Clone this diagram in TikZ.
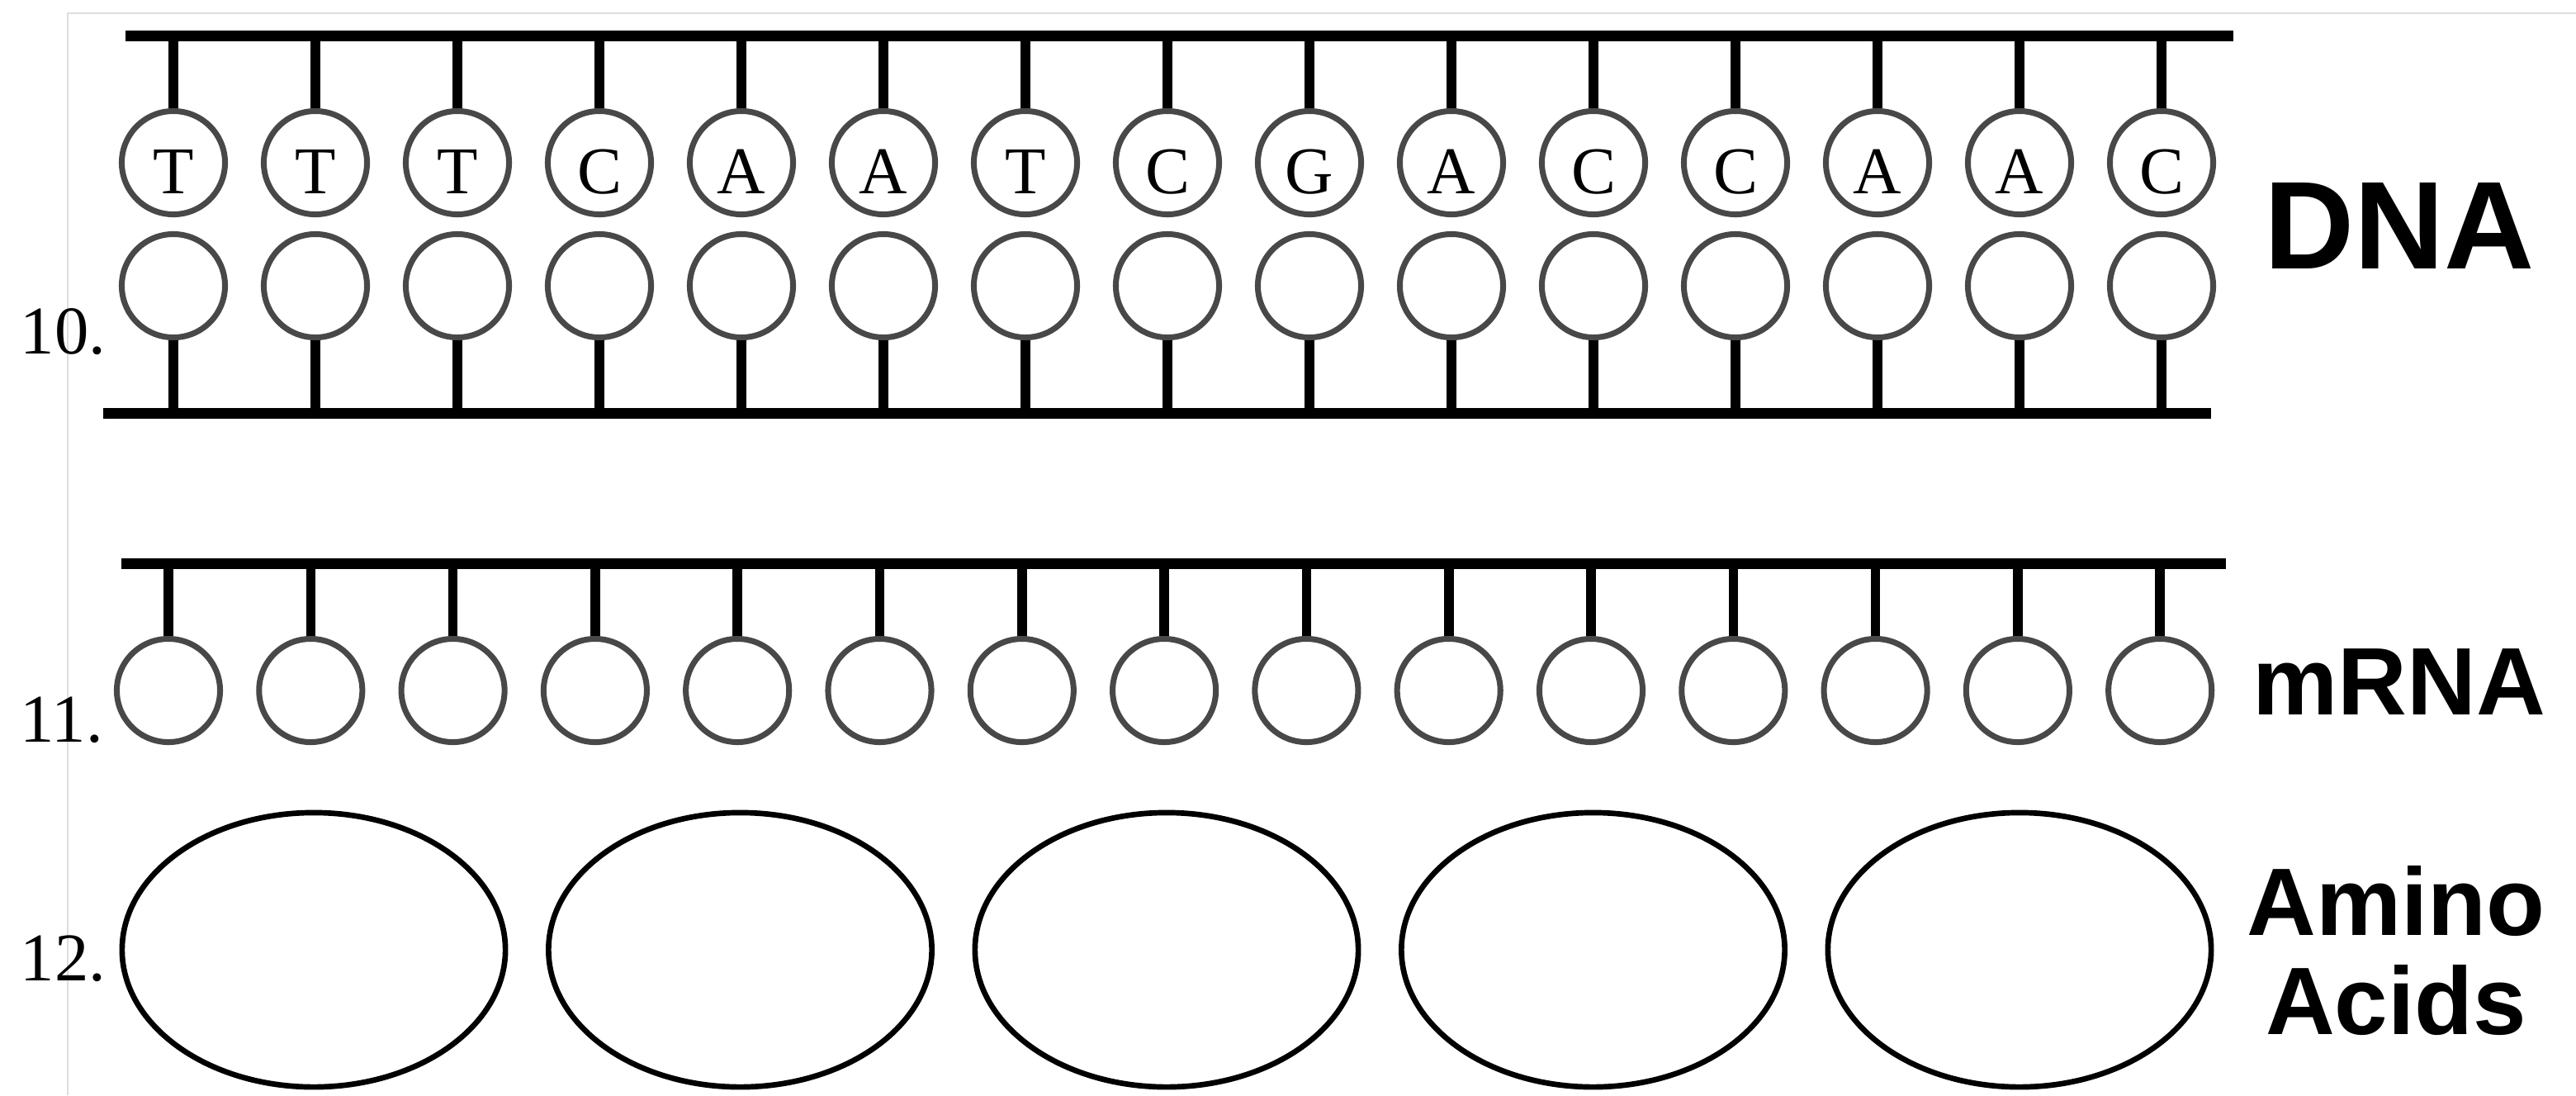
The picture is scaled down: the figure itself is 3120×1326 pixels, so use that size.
\documentclass[tikz,border=0pt]{standalone}
\usepackage{fontspec}
\setmainfont{Liberation Serif}
\setsansfont{Liberation Sans}
\usetikzlibrary{shapes.geometric}
\definecolor{basegray}{RGB}{72,72,72}
\definecolor{framegray}{RGB}{222,222,222}
\begin{document}
\begin{tikzpicture}[x=0.01cm,y=-0.01cm,
  backbone/.style={line width=3.7pt},
  stick/.style={line width=3.3pt},
  base/.style={circle,draw=basegray,line width=2pt,minimum size=1.25cm,inner sep=0pt},
  aa/.style={ellipse,draw,line width=1.9pt,minimum width=4.64cm,minimum height=3.32cm,inner sep=0pt},
  letter/.style={anchor=base,inner sep=0pt,font=\fontsize{23}{24}\selectfont},
  qnum/.style={anchor=base west,inner sep=0pt,font=\fontsize{23.5}{25}\selectfont},
  biglabel/.style={anchor=base,inner sep=0pt,font=\sffamily\bfseries\fontsize{43}{45}\selectfont},
  label/.style={anchor=base,inner sep=0pt,align=center,font=\sffamily\bfseries\fontsize{33}{34.1}\selectfont}]
\useasboundingbox (0,0) rectangle (3120,1326);
% faint frame
\draw[framegray,line width=0.6pt] (82,1326) -- (82,16) -- (3120,16);
% DNA backbones
\coordinate (tbL) at (152,43);
\coordinate (tbR) at (2705,43);
\coordinate (bbL) at (125,500);
\coordinate (bbR) at (2678,500);
\draw[backbone] (tbL) -- (tbR);
\draw[backbone] (bbL) -- (bbR);
% DNA bases
\foreach \l [count=\i from 0] in {T,T,T,C,A,A,T,C,G,A,C,C,A,A,C} {
  \node[base] (t\i) at ({210+172*\i},197) {};
  \node[letter] (tl\i) at ({210+172*\i},234) {\l};
  \draw[stick] (t\i.north) -- (t\i.north |- tbL);
  \node[base] (b\i) at ({210+172*\i},346) {};
  \draw[stick] (b\i.south) -- (b\i.south |- bbL);
}
% mRNA
\coordinate (mbL) at (147,682);
\coordinate (mbR) at (2696,682);
\draw[backbone] (mbL) -- (mbR);
\foreach \i in {0,...,14} {
  \node[base] (m\i) at ({204+172.3*\i},836) {};
  \draw[stick] (m\i.north) -- (m\i.north |- mbL);
}
% amino acids
\foreach \i in {0,...,4} {
  \node[aa] (aa\i) at ({380+516.5*\i},1150) {};
}
% labels
\node[qnum] (n10) at (24,428) {10.};
\node[qnum] (n11) at (24,898) {11.};
\node[qnum] (n12) at (24,1187) {12.};
\node[biglabel] (dna) at (2906,325) {DNA};
\node[label] (mrna) at (2906,865) {mRNA};
\node[label] (amino) at (2902,1252) {Amino\\Acids};
\end{tikzpicture}
\end{document}
